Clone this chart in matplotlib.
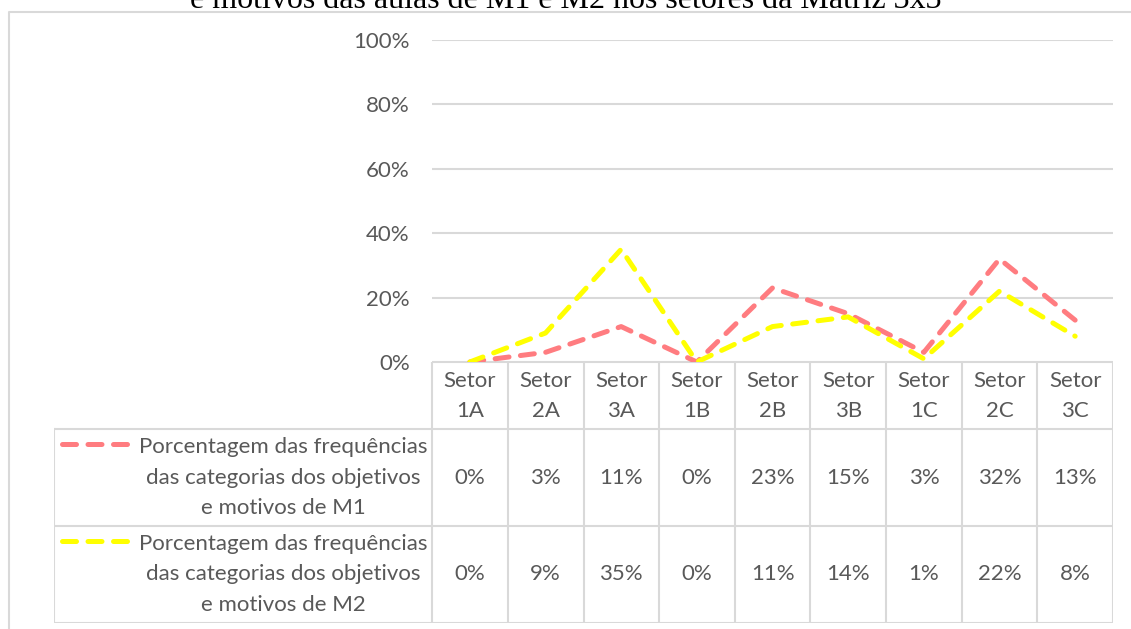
import numpy as np
import matplotlib.pyplot as plt
from matplotlib.lines import Line2D

setores = ['Setor\n1A', 'Setor\n2A', 'Setor\n3A', 'Setor\n1B', 'Setor\n2B',
           'Setor\n3B', 'Setor\n1C', 'Setor\n2C', 'Setor\n3C']
m1 = [0, 3, 11, 0, 23, 15, 3, 32, 13]
m2 = [0, 9, 35, 0, 11, 14, 1, 22, 8]
series_names = ['Porcentagem das frequências\ndas categorias dos objetivos\ne motivos de M1',
                'Porcentagem das frequências\ndas categorias dos objetivos\ne motivos de M2']
colors = ['#FF7C80', '#FFFF00']
title = 'e motivos das aulas de M1 e M2 nos setores da Matriz 3x3'

W, H = 1131, 629
txt = '#595959'
grid = '#D9D9D9'
fs = 16
plt.rcParams['font.family'] = ['Lato', 'DejaVu Sans']

fig = plt.figure(figsize=(W / 100, H / 100), dpi=100)

def px(x0, y0, x1, y1):
    return [x0 / W, 1 - y1 / H, (x1 - x0) / W, (y1 - y0) / H]

# outer frame
frame = fig.add_axes(px(0, 0, W, H))
frame.set_xlim(0, W)
frame.set_ylim(H, 0)
frame.axis('off')
frame.plot([9, 9, W + 5], [H + 5, 12, 12], color=grid, lw=1.5)

# title is cut by the top edge, as in the reference
fig.text(0.5, 1 - 8 / H, title, ha='center', va='baseline',
         fontsize=23, family='Liberation Serif', color='black')

# line chart
ax = fig.add_axes(px(432, 40, 1113, 362))
x = np.arange(len(setores))
for vals, c in zip([m1, m2], colors):
    ax.plot(x, np.array(vals) / 100, color=c, lw=3.6, dashes=(2.8, 2.3),
            dash_capstyle='round', solid_capstyle='round', zorder=3)
ax.set_xlim(-0.5, len(setores) - 0.5)
ax.set_ylim(0, 1)
ax.set_yticks(np.arange(0, 1.01, 0.2))
ax.set_yticklabels(['{0}%'.format(int(round(v * 100))) for v in np.arange(0, 1.01, 0.2)])
ax.yaxis.grid(True, color=grid, lw=1.5)
ax.set_axisbelow(True)
ax.set_xticks([])
ax.tick_params(axis='y', length=0, pad=16, labelsize=fs, labelcolor=txt)
for s in ax.spines.values():
    s.set_visible(False)
ax.patch.set_alpha(0)

# data table
tb = fig.add_axes(px(54, 362, 1113, 623))
tb.set_xlim(-5.5, len(setores) - 0.5)
tb.set_ylim(261, 0)
tb.axis('off')
rows = [0, 67, 164, 261]
n = len(setores)
tb.plot([-0.5, n - 0.5], [0, 0], color=grid, lw=1.5)
for r in rows[1:]:
    tb.plot([-5.5, n - 0.5], [r, r], color=grid, lw=1.5)
for i in range(n + 1):
    tb.plot([i - 0.5, i - 0.5], [0, 261], color=grid, lw=1.5)
tb.plot([-5.5, -5.5], [67, 261], color=grid, lw=1.5)

for i, lab in enumerate(setores):
    tb.text(i, 34, lab, ha='center', va='center', fontsize=fs, color=txt,
            linespacing=1.6)
for k, vals in enumerate([m1, m2]):
    yc = (rows[k + 1] + rows[k + 2]) / 2
    for i, v in enumerate(vals):
        tb.text(i, yc, '{0}%'.format(v), ha='center', va='center', fontsize=fs, color=txt)
    tb.text(-2.47, yc, series_names[k], ha='center', va='center', fontsize=fs,
            color=txt, linespacing=1.65, multialignment='center')
    tb.add_line(Line2D([-5.39, -4.54], [yc - 34, yc - 34], color=colors[k], lw=3.6,
                       dashes=(2.8, 2.3), dash_capstyle='round'))

fig.savefig('out.png', dpi=100)
